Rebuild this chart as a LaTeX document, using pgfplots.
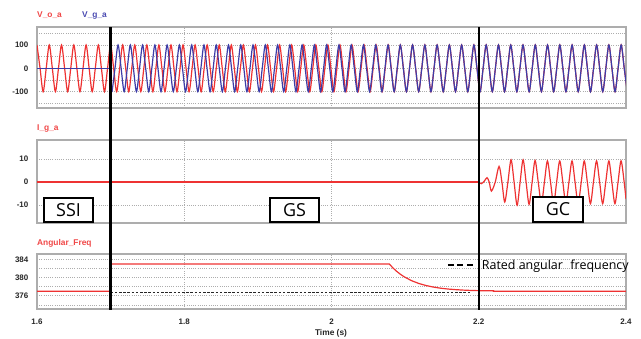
\documentclass[border=0pt]{standalone}
\usepackage{fontspec}
\setmainfont{Liberation Sans}
\newfontfamily\boxfont{Open Sans}
\usepackage{pgfplots}
\pgfplotsset{compat=1.18}
\definecolor{vred}{RGB}{238,50,50}
\definecolor{vblue}{RGB}{60,60,168}
\definecolor{lred}{RGB}{240,70,70}
\definecolor{lblue}{RGB}{72,72,176}
\newcommand{\tickfont}{\fontsize{8}{9}\selectfont\bfseries}
\newcommand{\labfont}{\fontsize{8.4}{9}\selectfont\bfseries}
\pgfplotsset{
  panel/.style={
    scale only axis, width=589bp, anchor=south west,
    xmin=1.6, xmax=2.4, xtick={1.6,1.8,2,2.2,2.4},
    grid=both,
    major grid style={draw=black!32, line width=0.8bp, dash pattern=on 1bp off 1.2bp},
    minor grid style={draw=black!32, line width=0.8bp, dash pattern=on 1bp off 1.2bp},
    axis line style={draw=black!32, line width=1.4bp},
    major tick length=0pt, minor tick length=0pt,
    ticklabel style={font=\tickfont, text=black!85},
    /pgf/number format/assume math mode=true,
    yticklabel style={anchor=east, inner sep=0pt, xshift=-8.5bp},
    xticklabel style={anchor=base, inner sep=0pt, yshift=-15bp},
  }
}
\begin{document}
\begin{tikzpicture}
\useasboundingbox (0,0) rectangle (641bp,339bp);
% ---------------- top panel ----------------
\begin{axis}[panel, at={(37bp,231bp)}, height=81bp,
  ymin=-170, ymax=177, ytick={-100,0,100}, minor ytick={-150,-50,50,150},
  xticklabels={}]
\addplot[vred, line width=1.2bp, smooth] coordinates {
(1.6,100)(1.60417,0)(1.60833,-100)(1.6125,0)(1.61667,100)(1.62083,0)(1.625,-100)(1.62917,0)(1.63333,100)(1.6375,0)(1.64167,-100)(1.64583,0)(1.65,100)(1.65417,0)(1.65833,-100)(1.6625,0)(1.66667,100)(1.67083,0)(1.675,-100)(1.67917,0)(1.68333,100)(1.6875,0)(1.69167,-100)(1.69583,0)(1.7,100)
(1.70410,0)(1.70820,-100)(1.71230,0)(1.71639,100)(1.72049,0)(1.72459,-100)(1.72869,0)(1.73279,100)(1.73689,0)(1.74098,-100)(1.74508,0)(1.74918,100)
(1.75328,0)(1.75738,-100)(1.76148,0)(1.76557,100)(1.76967,0)(1.77377,-100)(1.77787,0)(1.78197,100)(1.78607,0)(1.79016,-100)(1.79426,0)(1.79836,100)
(1.80246,0)(1.80656,-100)(1.81066,0)(1.81475,100)(1.81885,0)(1.82295,-100)(1.82705,0)(1.83115,100)(1.83525,0)(1.83934,-100)(1.84344,0)(1.84754,100)
(1.85164,0)(1.85574,-100)(1.85984,0)(1.86393,100)(1.86803,0)(1.87213,-100)(1.87623,0)(1.88033,100)(1.88443,0)(1.88852,-100)(1.89262,0)(1.89672,100)
(1.90082,0)(1.90492,-100)(1.90902,0)(1.91311,100)(1.91721,0)(1.92131,-100)(1.92541,0)(1.92951,100)(1.93361,0)(1.93770,-100)(1.94180,0)(1.94590,100)
(1.95000,0)(1.95410,-100)(1.95820,0)(1.96230,100)(1.96639,0)(1.97049,-100)(1.97459,0)(1.97869,100)(1.98279,0)(1.98689,-100)(1.99098,0)(1.99508,100)
(1.99918,0)(2.00328,-100)(2.00738,0)(2.01148,100)(2.01557,0)(2.01967,-100)(2.02377,0)(2.02787,100)(2.03197,0)(2.03607,-100)(2.04016,0)(2.04426,100)
(2.04836,0)(2.05246,-100)(2.05656,0)(2.06066,100)(2.06475,0)(2.06885,-100)(2.07295,0)(2.07705,100)(2.08115,0)
(2.08526,-100)(2.08938,0)(2.09351,100)(2.09765,0)(2.10180,-100)(2.10595,0)(2.11011,100)(2.11427,0)
(2.11844,-100)(2.12261,0)(2.12677,100)(2.13094,0)(2.13511,-100)(2.13927,0)(2.14344,100)(2.14761,0)
(2.15177,-100)(2.15594,0)(2.16011,100)(2.16427,0)(2.16844,-100)(2.17261,0)(2.17677,100)(2.18094,0)(2.18511,-100)(2.18927,0)(2.19344,100)(2.19761,0)
(2.20177,-100)(2.20594,0)(2.21011,100)(2.21427,0)(2.21844,-100)(2.22261,0)(2.22677,100)(2.23094,0)(2.23511,-100)(2.23927,0)(2.24344,100)(2.24761,0)
(2.25177,-100)(2.25594,0)(2.26011,100)(2.26427,0)(2.26844,-100)(2.27261,0)(2.27677,100)(2.28094,0)(2.28511,-100)(2.28927,0)(2.29344,100)(2.29761,0)
(2.30177,-100)(2.30594,0)(2.31011,100)(2.31427,0)(2.31844,-100)(2.32261,0)(2.32677,100)(2.33094,0)(2.33511,-100)(2.33927,0)(2.34344,100)(2.34761,0)
(2.35177,-100)(2.35594,0)(2.36011,100)(2.36427,0)(2.36844,-100)(2.37261,0)(2.37677,100)(2.38094,0)(2.38511,-100)(2.38927,0)(2.39344,100)(2.39761,0)
(2.40177,-100)
};
\addplot[vblue, line width=1.2bp] coordinates {(1.6,0)(1.7,0)(1.7,-78.6)};
\addplot[vblue, line width=1.2bp, smooth] coordinates {
(1.7,-78.6)
(1.70177,-100)(1.70594,0)(1.71011,100)(1.71427,0)(1.71844,-100)(1.72261,0)(1.72677,100)(1.73094,0)(1.73511,-100)(1.73927,0)(1.74344,100)(1.74761,0)
(1.75177,-100)(1.75594,0)(1.76011,100)(1.76427,0)(1.76844,-100)(1.77261,0)(1.77677,100)(1.78094,0)(1.78511,-100)(1.78927,0)(1.79344,100)(1.79761,0)
(1.80177,-100)(1.80594,0)(1.81011,100)(1.81427,0)(1.81844,-100)(1.82261,0)(1.82677,100)(1.83094,0)(1.83511,-100)(1.83927,0)(1.84344,100)(1.84761,0)
(1.85177,-100)(1.85594,0)(1.86011,100)(1.86427,0)(1.86844,-100)(1.87261,0)(1.87677,100)(1.88094,0)(1.88511,-100)(1.88927,0)(1.89344,100)(1.89761,0)
(1.90177,-100)(1.90594,0)(1.91011,100)(1.91427,0)(1.91844,-100)(1.92261,0)(1.92677,100)(1.93094,0)(1.93511,-100)(1.93927,0)(1.94344,100)(1.94761,0)
(1.95177,-100)(1.95594,0)(1.96011,100)(1.96427,0)(1.96844,-100)(1.97261,0)(1.97677,100)(1.98094,0)(1.98511,-100)(1.98927,0)(1.99344,100)(1.99761,0)
(2.00177,-100)(2.00594,0)(2.01011,100)(2.01427,0)(2.01844,-100)(2.02261,0)(2.02677,100)(2.03094,0)(2.03511,-100)(2.03927,0)(2.04344,100)(2.04761,0)
(2.05177,-100)(2.05594,0)(2.06011,100)(2.06427,0)(2.06844,-100)(2.07261,0)(2.07677,100)(2.08094,0)(2.08511,-100)(2.08927,0)(2.09344,100)(2.09761,0)
(2.10177,-100)(2.10594,0)(2.11011,100)(2.11427,0)(2.11844,-100)(2.12261,0)(2.12677,100)(2.13094,0)(2.13511,-100)(2.13927,0)(2.14344,100)(2.14761,0)
(2.15177,-100)(2.15594,0)(2.16011,100)(2.16427,0)(2.16844,-100)(2.17261,0)(2.17677,100)(2.18094,0)(2.18511,-100)(2.18927,0)(2.19344,100)(2.19761,0)
(2.20177,-100)(2.20594,0)(2.21011,100)(2.21427,0)(2.21844,-100)(2.22261,0)(2.22677,100)(2.23094,0)(2.23511,-100)(2.23927,0)(2.24344,100)(2.24761,0)
(2.25177,-100)(2.25594,0)(2.26011,100)(2.26427,0)(2.26844,-100)(2.27261,0)(2.27677,100)(2.28094,0)(2.28511,-100)(2.28927,0)(2.29344,100)(2.29761,0)
(2.30177,-100)(2.30594,0)(2.31011,100)(2.31427,0)(2.31844,-100)(2.32261,0)(2.32677,100)(2.33094,0)(2.33511,-100)(2.33927,0)(2.34344,100)(2.34761,0)
(2.35177,-100)(2.35594,0)(2.36011,100)(2.36427,0)(2.36844,-100)(2.37261,0)(2.37677,100)(2.38094,0)(2.38511,-100)(2.38927,0)(2.39344,100)(2.39761,0)
(2.40177,-100)
};
\end{axis}
% ---------------- middle panel ----------------
\begin{axis}[panel, at={(37bp,116bp)}, height=83bp,
  ymin=-17.8, ymax=18.3, ytick={-10,0,10}, xticklabels={}]
\addplot[vred, line width=1.2bp] coordinates {(1.6,0)(2.2,0)};
\addplot[vred, line width=1.2bp, smooth] coordinates {
(2.2,0)(2.2036,-0.7)(2.2075,0.4)(2.2113,1.9)(2.2142,0)(2.2172,-3.9)(2.2224,0)(2.2276,6.8)(2.2315,0)(2.2353,-8.7)(2.2396,0)(2.2439,9.7)(2.2480,0)(2.2521,-10.1)(2.2562,0)(2.2602,9.7)(2.2643,0)(2.2684,-9.7)(2.2725,0)(2.2765,9.4)(2.2808,0)(2.2851,-9.4)(2.2892,0)(2.2933,9.2)(2.2975,0)(2.3017,-9.4)(2.3058,0)(2.3100,9.2)(2.3142,0)(2.3183,-9.4)(2.3225,0)(2.3267,9.2)(2.3308,0)(2.3350,-9.4)(2.3392,0)(2.3433,9.2)(2.3475,0)(2.3517,-9.4)(2.3558,0)(2.3600,9.2)(2.3642,0)(2.3683,-9.4)(2.3725,0)(2.3767,9.2)(2.3808,0)(2.3850,-9.4)(2.3892,0)(2.3933,9.2)(2.3975,0)(2.4,-7.4)
};
\end{axis}
% ---------------- bottom panel ----------------
\begin{axis}[panel, at={(37bp,30bp)}, height=55bp,
  ymin=373.1, ymax=385.2, ytick={376,380,384}, minor ytick={374,378,382},
  legend style={at={(axis description cs:0.696,0.8)}, anchor=west, draw=none, fill=none,
    inner sep=0pt, outer sep=0pt, nodes={inner sep=0pt}, font=\boxfont\fontsize{12.5}{14}\selectfont},
  ]
\addplot[vred, line width=1.2bp, forget plot] coordinates {
(1.6,377)(1.7,377)(1.7,383)(2.0785,383)(2.0835,382.13)(2.0885,381.39)(2.0935,380.75)(2.0985,380.21)(2.1085,379.35)(2.1185,378.72)(2.1285,378.26)(2.1385,377.92)(2.1485,377.67)(2.1585,377.49)(2.1685,377.36)(2.1785,377.26)(2.1885,377.19)(2.1985,377.14)(2.22,377.1)(2.22,377.0)(2.4,377.0)
};
\addplot[black!85, line width=0.8bp, dash pattern=on 2.5bp off 1.7bp,
  legend image code/.code={\draw[black, line width=2bp, dash pattern=on 6bp off 3.5bp] (0bp,0bp) -- (25bp,0bp);}]
  coordinates {(1.7,376.8)(2.188,376.8)};
\addlegendentry{\hspace{8bp}Rated angular\hspace{0.6em}frequency}
\end{axis}
% ---------------- labels ----------------
\node[anchor=base west, inner sep=0pt, text=lred, font=\labfont] at (37bp,321.3bp) {V\_o\_a};
\node[anchor=base west, inner sep=0pt, text=lblue, font=\labfont] at (82bp,321.3bp) {V\_g\_a};
\node[anchor=base west, inner sep=0pt, text=lred, font=\labfont] at (37bp,208.5bp) {I\_g\_a};
\node[anchor=base west, inner sep=0pt, text=lred, font=\labfont] at (37bp,93.7bp) {Angular\_Freq};
\node[anchor=base, inner sep=0pt, text=black!85, font=\labfont] at (331bp,3.5bp) {Time (s)};
% ---------------- event lines ----------------
\draw[black, line width=2.4bp] (110.6bp,29bp) -- (110.6bp,312bp);
\draw[black, line width=2.4bp] (478.8bp,29bp) -- (478.8bp,312bp);
% ---------------- mode boxes ----------------
\tikzset{modebox/.style={draw=black, line width=1.6bp, fill=white, minimum width=49.5bp, minimum height=24.5bp, inner sep=0pt, font=\boxfont\fontsize{18}{20}\selectfont}}
\node[modebox] at (68.5bp,129bp) {SSI};
\node[modebox] at (294.5bp,129bp) {GS};
\node[modebox] at (558bp,129.5bp) {GC};
\end{tikzpicture}
\end{document}
